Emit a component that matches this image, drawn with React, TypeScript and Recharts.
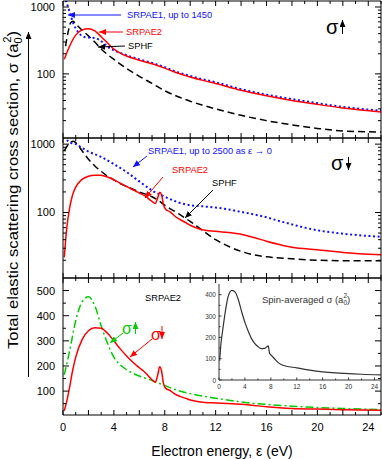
import { LineChart, Line, XAxis, YAxis } from "recharts";

const FONT = "'Liberation Sans', Arial, Helvetica, sans-serif";

// spin-up cross sections (top panel, green curve in bottom panel)
const upE2 = [0.1, 0.5, 1, 1.5, 2, 2.5, 3, 3.5, 4, 4.5, 5, 6, 7, 8, 9, 10, 11, 12, 14, 16, 18, 20, 22, 25];
const upSrpae2 = [165, 255, 380, 455, 475, 440, 360, 290, 235, 205, 185, 160, 142, 122, 103, 90, 80, 72, 57, 47, 40, 35, 31, 27];
const upE1 = [0.05, 0.3, 0.55, 0.8, 1.2, 1.7, 2.5, 3.1, 3.5, 4, 4.6, 5, 6, 7, 8, 9, 10, 11, 12, 14, 16, 18, 20, 22, 25];
const upSrpae1 = [1450, 1140, 810, 575, 420, 355, 345, 300, 255, 225, 203, 190, 165, 146, 126, 106, 93, 83, 75, 59, 49, 42, 36.5, 32, 28.3];
const upEHF = [0.2, 0.4, 0.6, 0.8, 1, 1.5, 2, 2.5, 3, 3.5, 4, 5, 6, 7, 8, 9, 10, 11, 12, 14, 16, 18, 20, 22, 25];
const upSphf = [260, 420, 580, 610, 560, 450, 370, 300, 235, 195, 165, 120, 92, 72, 56, 46, 39, 34, 30, 24, 20, 17.3, 15.3, 14, 13.5];

// spin-down cross sections (middle panel, red curve in bottom panel)
const dnE2 = [0.1, 0.3, 0.5, 0.75, 1, 1.5, 2, 2.5, 3, 3.5, 4, 4.5, 5, 5.5, 6, 6.5, 7, 7.25, 7.45, 7.6, 7.75, 7.9, 8.1, 8.4, 8.8, 9.2, 9.6, 10, 10.8, 12, 13, 14, 15, 16, 17, 18, 20, 22, 25];
const dnSrpae2 = [22, 60, 110, 180, 235, 305, 340, 352, 350, 330, 300, 268, 240, 215, 193, 172, 145, 135, 165, 197, 180, 130, 110, 103, 88, 79, 72, 65, 57, 53, 51, 48, 43, 38, 34, 31, 28.5, 26, 24];
const dnE1 = [0.05, 0.2, 0.4, 0.7, 1, 1.5, 2, 3, 4, 5, 6, 7, 8, 9, 10, 11, 12, 13, 14, 15, 16, 17, 18, 19, 20, 22, 25];
const dnSrpae1 = [2500, 1500, 1100, 1030, 1000, 880, 780, 650, 510, 390, 285, 210, 170, 142, 128, 123, 118, 111, 102, 94, 85, 75, 67, 60, 55, 49, 44];
const dnEHF = [0.1, 0.4, 0.8, 1, 1.5, 2, 2.5, 3, 3.5, 4, 4.5, 5, 6, 7, 7.5, 8, 9, 10, 11, 12, 13, 14, 15, 16, 18, 20, 22, 25];
const dnSphf = [800, 980, 1100, 1050, 800, 600, 480, 400, 340, 300, 265, 240, 200, 170, 150, 128, 98, 74, 54, 40, 32, 27, 24, 22.5, 21, 20, 19.7, 19.7];

// spin-averaged (inset)
const avE = [0.1, 0.3, 0.6, 1, 1.4, 2, 2.5, 3, 3.5, 4, 4.5, 5, 5.5, 6, 6.5, 7, 7.3, 7.6, 7.8, 8, 8.5, 9, 9.5, 10, 12, 14, 16, 18, 20, 22, 25];
const avSrpae2 = [90, 170, 240, 325, 390, 420, 412, 375, 320, 270, 230, 195, 172, 157, 147, 148, 153, 160, 125, 118, 102, 85, 74, 68, 57, 46, 38, 33, 30, 27, 24];

// ticks
const eTicks = [0, 1, 2, 3, 4, 5, 6, 7, 8, 9, 10, 11, 12, 13, 14, 15, 16, 17, 18, 19, 20, 21, 22, 23, 24, 25];
const eLabels = [0, 4, 8, 12, 16, 20, 24];
const eMajor = [0, 2, 4, 6, 8, 10, 12, 14, 16, 18, 20, 22, 24];
const logTicks = [20, 30, 40, 50, 60, 70, 80, 90, 100, 200, 300, 400, 500, 600, 700, 800, 900, 1000];
const logLabels = [100, 1000];
const linTicks = [50, 100, 150, 200, 250, 300, 350, 400, 450, 500];
const linLabels = [100, 200, 300, 400, 500];
const inXTicks = [0, 2, 4, 6, 8, 10, 12, 14, 16, 18, 20, 22, 24];
const inXLabels = [0, 4, 8, 12, 16, 20, 24];
const inYTicks = [0, 50, 100, 150, 200, 250, 300, 350, 400];
const inYLabels = [0, 100, 200, 300, 400];

const pts = (e: number[], v: number[]) => e.map((x, i) => ({ e: x, v: v[i] }));

type Side = "bottom" | "top" | "left" | "right";

// inward tick marks, drawn from the axis line
function tick(side: Side, labels: number[], major: number[], lens: number[], fs = 0, gap = 0, color = "#000") {
  return (p: any) => {
    const { x, y, payload } = p;
    const v = payload.value;
    const len = major.includes(v) ? lens[1] : lens[0];
    const show = fs > 0 && labels.includes(v);
    let ln = null;
    let tx = null;
    if (side === "bottom") {
      ln = <line x1={x} x2={x} y1={y} y2={y - len} stroke={color} />;
      if (show) tx = <text x={x} y={y + gap} textAnchor="middle" dominantBaseline="central" fontSize={fs} fontFamily={FONT} fill={color}>{v}</text>;
    } else if (side === "top") {
      ln = <line x1={x} x2={x} y1={y} y2={y + len} stroke={color} />;
    } else if (side === "left") {
      ln = <line x1={x} x2={x + len} y1={y} y2={y} stroke={color} />;
      if (show) tx = <text x={x - gap} y={y} textAnchor="end" dominantBaseline="central" fontSize={fs} fontFamily={FONT} fill={color}>{v}</text>;
    } else {
      ln = <line x1={x} x2={x - len} y1={y} y2={y} stroke={color} />;
    }
    return <g>{ln}{tx}</g>;
  };
}

const axisLine = { stroke: "#000", strokeWidth: 1 };

function frame(yScale: "log" | "linear", yDomain: number[], yTicks: number[], yLabels: number[], yMajor: number[], xLabelled: boolean) {
  return [
    <XAxis key="xb" xAxisId="b" type="number" dataKey="e" domain={[0, 25]} ticks={eTicks} interval={0} height={1}
      tickSize={0} tickMargin={0} axisLine={axisLine} tickLine={false} allowDataOverflow
      tick={tick("bottom", eLabels, eMajor, [3, 5], xLabelled ? 11 : 0, 12)} />,
    <XAxis key="xt" xAxisId="t" orientation="top" type="number" dataKey="e" domain={[0, 25]} ticks={eTicks} interval={0} height={1}
      tickSize={0} tickMargin={0} axisLine={axisLine} tickLine={false} allowDataOverflow
      tick={tick("top", [], eMajor, [3, 5])} />,
    <YAxis key="yl" yAxisId="l" type="number" scale={yScale} domain={yDomain} ticks={yTicks} interval={0} width={1}
      tickSize={0} tickMargin={0} axisLine={axisLine} tickLine={false} allowDataOverflow
      tick={tick("left", yLabels, yMajor, [3, 6], 11, 8)} />,
    <YAxis key="yr" yAxisId="r" orientation="right" type="number" scale={yScale} domain={yDomain} ticks={yTicks} interval={0} width={1}
      tickSize={0} tickMargin={0} axisLine={axisLine} tickLine={false} allowDataOverflow
      tick={tick("right", [], yMajor, [3, 6])} />,
  ];
}

function series(data: any[], color: string, dash?: string, width = 1.5) {
  return (
    <Line xAxisId="b" yAxisId="l" data={data} dataKey="v" type="monotone" stroke={color} strokeWidth={width}
      strokeDasharray={dash} dot={false} activeDot={false} isAnimationActive={false} />
  );
}

function Arrow({ x1, y1, x2, y2, c }: any) {
  return <line x1={x1} y1={y1} x2={x2} y2={y2} stroke={c} strokeWidth={1} markerEnd={`url(#ah${c.replace("#", "")})`} />;
}

const RED = "#ff0000";
const BLUE = "#1010ff";
const GREEN = "#00cc00";
const BLACK = "#000000";

export default function App() {
  const W = 382;
  return (
    <div style={{ position: "absolute", left: 0, top: 0, width: W, height: 459, background: "#fff", fontFamily: FONT }}>
      <div style={{ position: "absolute", left: 0, top: 0 }}>
        <LineChart width={W} height={140} margin={{ top: 0, right: 0, bottom: 1, left: 62 }}>
          {frame("log", [11, 1230], logTicks, logLabels, [100, 1000], false)}
          {series(pts(upEHF, upSphf), BLACK, "7 4")}
          {series(pts(upE1, upSrpae1), BLUE, "2 2.6", 2)}
          {series(pts(upE2, upSrpae2), RED)}
        </LineChart>
      </div>
      <div style={{ position: "absolute", left: 0, top: 130 }}>
        <LineChart width={W} height={150} margin={{ top: 7, right: 0, bottom: 1, left: 62 }}>
          {frame("log", [11, 1230], logTicks, logLabels, [100, 1000], false)}
          {series(pts(dnEHF, dnSphf), BLACK, "7 4")}
          {series(pts(dnE1, dnSrpae1), BLUE, "2 2.6", 2)}
          {series(pts(dnE2, dnSrpae2), RED)}
        </LineChart>
      </div>
      <div style={{ position: "absolute", left: 0, top: 270 }}>
        <LineChart width={W} height={189} margin={{ top: 7, right: 0, bottom: 43, left: 62 }}>
          {frame("linear", [5, 550], linTicks, linLabels, linLabels, true)}
          {series(pts(upE2, upSrpae2), GREEN, "8 3 2 3")}
          {series(pts(dnE2, dnSrpae2), RED)}
        </LineChart>
      </div>
      <div style={{ position: "absolute", left: 200, top: 280 }}>
        <LineChart width={182} height={115} margin={{ top: 4, right: 1, bottom: 14, left: 18 }}>
          <XAxis xAxisId="b" type="number" dataKey="e" domain={[0, 25]} ticks={inXTicks} interval={0} height={1}
            tickSize={0} tickMargin={0} axisLine={{ stroke: "#333" }} tickLine={false} allowDataOverflow
            tick={tick("bottom", inXLabels, inXLabels, [1.5, 2.5], 6.5, 6, "#333")} />
          <YAxis yAxisId="l" type="number" domain={[0, 450]} ticks={inYTicks} interval={0} width={1}
            tickSize={0} tickMargin={0} axisLine={{ stroke: "#333" }} tickLine={false} allowDataOverflow
            tick={tick("left", inYLabels, inYLabels, [1.5, 2.5], 6.5, 3, "#333")} />
          {series(pts(avE, avSrpae2), "#333333", undefined, 1.2)}
        </LineChart>
      </div>

      <svg width={W} height={459} style={{ position: "absolute", left: 0, top: 0, pointerEvents: "none" }} fontFamily={FONT}>
        <defs>
          {[RED, BLUE, GREEN, BLACK].map((c) => (
            <marker key={c} id={`ah${c.replace("#", "")}`} markerUnits="userSpaceOnUse" markerWidth={7} markerHeight={6}
              refX={7} refY={3} orient="auto">
              <path d="M0,0 L7,3 L0,6 z" fill={c} />
            </marker>
          ))}
        </defs>

        {/* y-axis title with arrow */}
        <text transform="translate(18,190) rotate(-90)" textAnchor="middle" fontSize={15} fill="#000"
          textLength={318} lengthAdjust="spacingAndGlyphs">
          Total elastic scattering cross section, σ (a<tspan fontSize={10} dy={4}>0</tspan><tspan fontSize={10} dx={-5} dy={-11}>2</tspan><tspan dy={7}>)</tspan>
        </text>
        <Arrow x1={28.5} y1={377} x2={28.5} y2={32} c={BLACK} />
        <text x={222} y={456} textAnchor="middle" fontSize={14} fill="#000">Electron energy, ε (eV)</text>

        {/* top panel */}
        <Arrow x1={121} y1={15} x2={68} y2={15} c={BLUE} />
        <text x={127} y={15} dominantBaseline="central" fontSize={9.3} fill={BLUE}>SRPAE1, up to 1450</text>
        <Arrow x1={123} y1={32} x2={99} y2={32} c={RED} />
        <text x={126} y={32} dominantBaseline="central" fontSize={9.3} fill={RED}>SRPAE2</text>
        <Arrow x1={125} y1={46} x2={98} y2={47} c={BLACK} />
        <text x={128} y={46} dominantBaseline="central" fontSize={9.3} fill={BLACK}>SPHF</text>
        <text x={326} y={34} fontSize={20} fill="#000">σ</text>
        <Arrow x1={342.5} y1={34} x2={342.5} y2={20} c={BLACK} />

        {/* middle panel */}
        <text x={148} y={151} dominantBaseline="central" fontSize={9.3} fill={BLUE}>SRPAE1, up to 2500 as ε → 0</text>
        <Arrow x1={147} y1={156} x2={133} y2={167} c={BLUE} />
        <text x={172} y={170} dominantBaseline="central" fontSize={9.3} fill={RED}>SRPAE2</text>
        <Arrow x1={163} y1={177} x2={145} y2={198} c={RED} />
        <text x={212} y={183} dominantBaseline="central" fontSize={9.3} fill={BLACK}>SPHF</text>
        <Arrow x1={213} y1={190} x2={185} y2={218} c={BLACK} />
        <text x={331} y={170} fontSize={20} fill="#000">σ</text>
        <Arrow x1={348.5} y1={157} x2={348.5} y2={170} c={BLACK} />

        {/* bottom panel */}
        <text x={145} y={298} dominantBaseline="central" fontSize={9.3} fill={BLACK}>SRPAE2</text>
        <text x={122} y={334} fontSize={16} fill={GREEN}>σ</text>
        <Arrow x1={135.5} y1={334} x2={135.5} y2={322} c={GREEN} />
        <Arrow x1={123} y1={333} x2={110} y2={343} c={GREEN} />
        <text x={151} y={340} fontSize={16} fill={RED}>σ</text>
        <Arrow x1={162} y1={326} x2={162} y2={339} c={RED} />
        <Arrow x1={152} y1={339} x2={130} y2={357} c={RED} />

        {/* inset title */}
        <text x={262} y={299} dominantBaseline="central" fontSize={9.5} fill="#333">
          Spin-averaged σ (a<tspan fontSize={6.5} dy={3}>0</tspan><tspan fontSize={6.5} dx={-3.6} dy={-7}>2</tspan><tspan dy={4}>)</tspan>
        </text>
      </svg>
    </div>
  );
}
